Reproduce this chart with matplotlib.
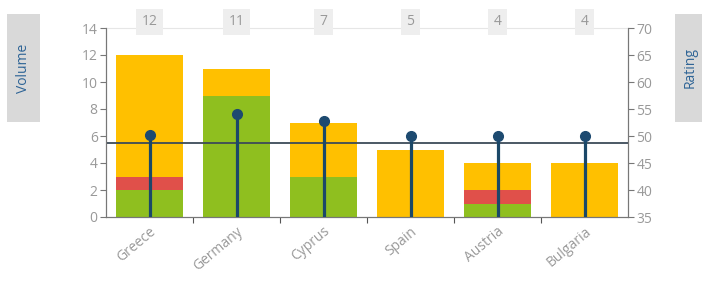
import numpy as np
import matplotlib.pyplot as plt
from matplotlib.patches import FancyBboxPatch

countries = ["Greece", "Germany", "Cyprus", "Spain", "Austria", "Bulgaria"]
green = [2, 9, 3, 0, 1, 0]
red = [1, 0, 0, 0, 1, 0]
yellow = [9, 2, 4, 5, 2, 4]
totals = [12, 11, 7, 5, 4, 4]
rating = [50.2, 54.1, 52.8, 50.0, 50.0, 50.0]
ref_level = 5.46

plt.rcParams['font.family'] = ['Open Sans', 'DejaVu Sans']
grey = '#999999'

fig = plt.figure(figsize=(7.02, 2.85), dpi=100)
ax = fig.add_axes([106/702, 1-217/285, 522/702, 189/285])
x = np.arange(len(countries))
w = 0.76

b = np.zeros(len(x))
for vals, col in [(green, '#8fbf1f'), (red, '#e0504a'), (yellow, '#ffc000')]:
    ax.bar(x, vals, w, bottom=b, color=col, linewidth=0, zorder=2)
    b = b + np.array(vals)

ax.axhline(ref_level, color='#3d4b58', lw=1.3, zorder=3)

ax.set_xlim(-0.5, len(x) - 0.5)
ax.set_ylim(0, 14)
ax.set_yticks(range(0, 15, 2))
ax.set_xticks(x[:-1] + 0.5)
ax.set_xticklabels([])
ax.set_xticks(x, minor=True)
ax.set_xticklabels(countries, minor=True, rotation=40, ha='right',
                   rotation_mode='anchor', color=grey, fontsize=10)
ax.tick_params(axis='x', which='minor', length=0, pad=5)
ax.tick_params(axis='x', which='major', length=4, color='#555555')
ax.tick_params(axis='y', colors=grey, labelsize=10, length=4, pad=2)
ax.tick_params(axis='y', color='#777777')
for s in ['left', 'bottom', 'right']:
    ax.spines[s].set_color('#777777')
ax.spines['top'].set_color('#e6e6e6')

ax2 = ax.twinx()
ax2.set_ylim(35, 70)
ax2.set_yticks(range(35, 71, 5))
ax2.vlines(x, 35, rating, color='#1b4868', lw=2.3, zorder=4)
ax2.plot(x, rating, 'o', color='#1d4a70', ms=7, zorder=5)
ax2.tick_params(axis='y', colors=grey, labelsize=10, length=4, pad=2)
ax2.tick_params(axis='y', color='#777777')
for s in ['left', 'bottom', 'right']:
    ax2.spines[s].set_color('#777777')
ax2.spines['top'].set_visible(False)

for xi, t in zip(x, totals):
    ax.text(xi, 1.032, str(t), transform=ax.get_xaxis_transform(),
            ha='center', va='center', color=grey, fontsize=10,
            bbox=dict(boxstyle='square,pad=0.4', fc='#eeeeee', ec='none'))

# side title boxes
fig.patches.append(FancyBboxPatch((7/702, 1-122/285), 33/702, 108/285,
                                  boxstyle='square,pad=0', fc='#d9d9d9',
                                  ec='none', transform=fig.transFigure))
fig.patches.append(FancyBboxPatch((675/702, 1-122/285), 30/702, 108/285,
                                  boxstyle='square,pad=0', fc='#d9d9d9',
                                  ec='none', transform=fig.transFigure))
fig.text(23.5/702, 1-68/285, 'Volume', rotation=90, ha='center', va='center',
         color='#2e6496', fontsize=10)
fig.text(690/702, 1-68/285, 'Rating', rotation=90, ha='center', va='center',
         color='#2e6496', fontsize=10)

fig.savefig('out.png', dpi=100)
